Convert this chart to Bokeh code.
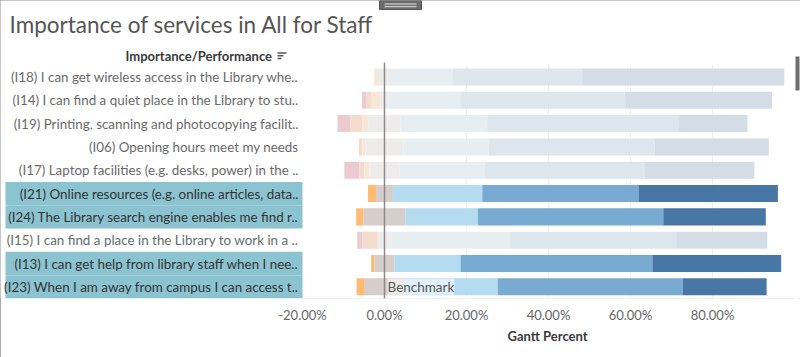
from bokeh.plotting import figure
from bokeh.models import Range1d, FixedTicker, PrintfTickFormatter, ColumnDataSource, Label, Title
from bokeh.core.properties import value
from bokeh.embed import file_html
from bokeh.resources import INLINE

# ---------------- data ----------------
title_text = "Importance of services in All for Staff"
header_text = "Importance/Performance"
axis_title = "Gantt Percent"
benchmark_text = "Benchmark"
benchmark = 0.0

labels = [
    "(I18) I can get wireless access in the Library whe..",
    "(I14) I can find a quiet place in the Library to stu..",
    "(I19) Printing, scanning and photocopying facilit..",
    "(I06) Opening hours meet my needs",
    "(I17) Laptop facilities (e.g. desks, power) in the ..",
    "(I21) Online resources (e.g. online articles, data..",
    "(I24) The Library search engine enables me find r..",
    "(I15) I can find a place in the Library to work in a ..",
    "(I13) I can get help from library staff when I nee..",
    "(I23) When I am away from campus I can access t..",
]
highlighted = [False, False, False, False, False, True, True, False, True, True]

# percentage of responses per rating (1 = very unimportant ... 7 = very important)
rating1 = [0.0, 1.0, 3.1, 0.0, 3.7, 0.0, 0.0, 1.2, 0.0, 0.0]
rating2 = [0.0, 1.2, 3.0, 0.8, 1.2, 0.0, 0.0, 3.7, 0.0, 0.0]
rating3 = [0.9, 2.3, 1.5, 0.8, 1.2, 2.0, 1.8, 0.0, 0.8, 2.0]
rating4 = [3.2, 2.0, 7.7, 9.3, 7.4, 4.1, 10.2, 3.5, 4.9, 9.6]
rating5 = [15.1, 17.5, 21.2, 20.8, 20.7, 21.8, 17.7, 28.7, 16.1, 22.8]
rating6 = [31.5, 40.2, 46.8, 40.4, 39.0, 38.1, 45.2, 40.7, 46.8, 45.1]
rating7 = [49.3, 35.8, 16.7, 27.9, 26.8, 34.0, 25.0, 22.2, 31.4, 20.5]

x_ticks = [-20, 0, 20, 40, 60, 80]
grid_ticks = [20, 40, 60, 80]
pane_min, pane_max = -20, 100

full_colors = ["#D98A9C", "#F0A77F", "#FFBB72", "#D7CDCA", "#B5DBF0", "#79AAD2", "#4876A5"]
faded_colors = ["#EBCAD1", "#F3DCCB", "#F7E7D8", "#EEEBEB", "#E7EEF2", "#DEE6ED", "#D4DCE5"]

# ---------------- layout helpers (pixel -> data) ----------------
W, H = 800, 357
pane_left_px, pane_right_px = 302, 794
scale = (pane_right_px - pane_left_px) / (pane_max - pane_min)
frame_bottom_px = 298
rows_top_px = 64.8
pitch = (frame_bottom_px - rows_top_px) / len(labels)


def xd(px):
    return pane_min + (px - pane_left_px) / scale


def yd(px):
    return (px - rows_top_px) / pitch - 0.5


p = figure(width=W, height=H, output_backend="svg", toolbar_location=None,
           x_range=Range1d(xd(0), xd(W)), y_range=Range1d(yd(frame_bottom_px), yd(0)),
           y_axis_location=None, min_border_left=0, min_border_right=0,
           min_border_top=0, min_border_bottom=H - frame_bottom_px)
p.outline_line_color = None
p.xgrid.grid_line_color = None
p.ygrid.grid_line_color = None
p.background_fill_color = "white"
p.border_fill_color = "white"
p.styles = {"outline": "2px solid #8c8c8c", "outline-offset": "-2px"}

n = len(labels)
rows = list(range(n))

# label highlight backgrounds
hl_rows = [i for i in rows if highlighted[i]]
p.hbar(y=hl_rows, left=xd(5), right=xd(pane_left_px), height=1.0,
       fill_color="#8cc3d1", line_color=None)

# gridlines
p.segment(x0=grid_ticks, x1=grid_ticks, y0=[-0.5] * len(grid_ticks), y1=[n - 0.5] * len(grid_ticks),
          line_color="#efefef", line_width=1)
p.segment(x0=[pane_min], x1=[pane_max], y0=[n - 0.5], y1=[n - 0.5], line_color="#e6e6e6", line_width=1)

# stacked diverging bars
series = [rating1, rating2, rating3, rating4, rating5, rating6, rating7]
ys, lefts, rights, colors = [], [], [], []
for i in rows:
    start = -(rating1[i] + rating2[i] + rating3[i] + rating4[i] / 2.0)
    for k, s in enumerate(series):
        v = s[i]
        if v <= 0:
            continue
        ys.append(i)
        lefts.append(start)
        rights.append(start + v)
        colors.append(full_colors[k] if highlighted[i] else faded_colors[k])
        start += v
src = ColumnDataSource(dict(y=ys, left=lefts, right=rights, color=colors))
p.hbar(y="y", left="left", right="right", height=0.73, fill_color="color", line_color=None, source=src)

# benchmark line
p.segment(x0=[benchmark], x1=[benchmark], y0=[yd(62)], y1=[yd(300)], line_color="#8a8a8a", line_width=1.5)

# row labels
lab_colors = ["#333333" if h else "#6a6a6a" for h in highlighted]
p.text(x=[xd(298)] * n, y=rows, text=labels, text_align="right", text_baseline="middle",
       text_font=value("Lato"), text_font_size="13.4px", text_color=lab_colors)

# title and header
p.text(x=[xd(9)], y=[yd(23.5)], text=[title_text], text_align="left", text_baseline="middle",
       text_font=value("Lato"), text_font_size="22.5px", text_color="#555555")
p.text(x=[xd(125)], y=[yd(55)], text=[header_text], text_align="left", text_baseline="middle",
       text_font=value("Lato"), text_font_size="13px", text_font_style="bold", text_color="#3a3a3a")
# sort icon
p.segment(x0=[xd(277)] * 3, x1=[xd(286), xd(283), xd(281)], y0=[yd(52.5), yd(55.3), yd(58)],
          y1=[yd(52.5), yd(55.3), yd(58)], line_color="#555555", line_width=1.5)

# top handle
p.quad(left=[xd(379)], right=[xd(421)], top=[yd(0)], bottom=[yd(9)], fill_color="#6b6b6b", line_color="#555555")
p.segment(x0=[xd(384)] * 2, x1=[xd(416)] * 2, y0=[yd(3.5), yd(6.2)], y1=[yd(3.5), yd(6.2)],
          line_color="#e8e8e8", line_width=1)
# scrollbar thumb on the right edge
p.quad(left=[xd(795)], right=[xd(799)], top=[yd(56)], bottom=[yd(90)], fill_color="#6e6e6e", line_color=None)

# benchmark label
p.add_layout(Label(x=benchmark, y=n - 1, text=benchmark_text, x_offset=3, text_baseline="middle",
                   text_font="Lato", text_font_size="13.5px", text_color="#555555",
                   background_fill_color="white", background_fill_alpha=0.6))

# x axis
ax = p.xaxis[0]
ax.ticker = FixedTicker(ticks=x_ticks)
ax.formatter = PrintfTickFormatter(format="%.2f%%")
ax.axis_line_color = None
ax.major_tick_line_color = None
ax.minor_tick_line_color = None
ax.major_label_standoff = 2
ax.major_label_text_font = "Lato"
ax.major_label_text_font_size = "13px"
ax.major_label_text_color = "#666666"

p.add_layout(Title(text=axis_title, align="left", offset=507, text_font="Lato", text_font_size="13px",
                   text_font_style="bold", text_color="#3a3a3a", standoff=0), "below")

open("out.html", "w").write(file_html(p, INLINE))
